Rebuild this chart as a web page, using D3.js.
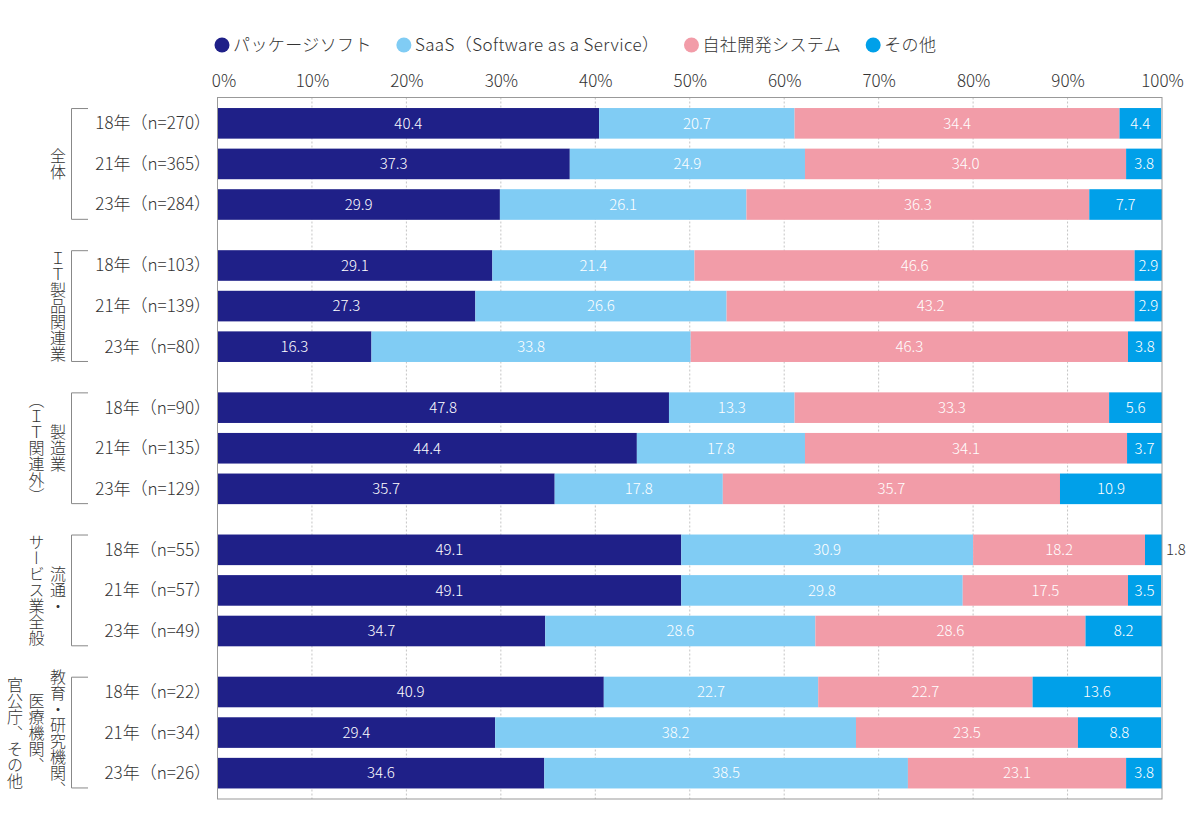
<!DOCTYPE html>
<html lang="ja">
<head>
<meta charset="utf-8">
<script src="https://cdn.jsdelivr.net/npm/d3@7"></script>
<style>
  html, body { margin: 0; padding: 0; background: #fff; }
  svg { display: block; }
  text { font-family: "Noto Sans CJK JP", "Noto Sans", sans-serif; font-weight: 300; }
</style>
</head>
<body>
<svg id="chart" width="1200" height="832"></svg>
<script>
// ---- data ----
const categories = ["パッケージソフト", "SaaS（Software as a Service）", "自社開発システム", "その他"];
const colors = ["#1f2088", "#80ccf4", "#f29ca8", "#00a0e9"];
const groupNames = ["全体", "IT製品関連業", "製造業（IT関連外）", "流通・サービス業全般", "教育・研究機関、医療機関、官公庁、その他"];
const groupLabelLines = [
  ["全体"],
  ["ＩＴ製品関連業"],
  ["製造業", "（ＩＴ関連外）"],
  ["流通・", "サービス業全般"],
  ["教育・研究機関、", "医療機関、", "官公庁、その他"]
];
const yearLabels = ["18年", "21年", "23年"];
const sampleSizes = [
  [270, 365, 284],
  [103, 139, 80],
  [90, 135, 129],
  [55, 57, 49],
  [22, 34, 26]
];
const packageSoft = [40.4, 37.3, 29.9, 29.1, 27.3, 16.3, 47.8, 44.4, 35.7, 49.1, 49.1, 34.7, 40.9, 29.4, 34.6];
const saas        = [20.7, 24.9, 26.1, 21.4, 26.6, 33.8, 13.3, 17.8, 17.8, 30.9, 29.8, 28.6, 22.7, 38.2, 38.5];
const inHouse     = [34.4, 34.0, 36.3, 46.6, 43.2, 46.3, 33.3, 34.1, 35.7, 18.2, 17.5, 28.6, 22.7, 23.5, 23.1];
const otherSys    = [4.4, 3.8, 7.7, 2.9, 2.9, 3.8, 5.6, 3.7, 10.9, 1.8, 3.5, 8.2, 13.6, 8.8, 3.8];
const tickValues  = [0, 10, 20, 30, 40, 50, 60, 70, 80, 90, 100];

// ---- build rows ----
const seriesArrays = [packageSoft, saas, inHouse, otherSys];
const rows = [];
groupNames.forEach((g, gi) => {
  yearLabels.forEach((yr, yi) => {
    const idx = gi * 3 + yi;
    const r = { group: g, year: yr, label: yr + "（n=" + sampleSizes[gi][yi] + "）" };
    categories.forEach((c, ci) => { r[c] = seriesArrays[ci][idx]; });
    rows.push(r);
  });
});

const svg = d3.select("#chart");
const pL = 217.5, pR = 1162, pT = 97.5, pB = 799;

const x = d3.scaleLinear().domain([0, 100]).range([pL, pR]);
const gy = d3.scaleBand().domain(groupNames).range([pT, pB]).paddingInner(0.1435).paddingOuter(0.039);
const ry = d3.scaleBand().domain(yearLabels).range([0, gy.bandwidth()]).paddingInner(0.246).paddingOuter(0.123);
const yPos = d => gy(d.group) + ry(d.year);

// ---- legend ----
const legend = svg.append("g").attr("class", "legend");
let lx = 222;
categories.forEach((c, i) => {
  legend.append("circle").attr("cx", lx).attr("cy", 45).attr("r", 7.5).attr("fill", colors[i]);
  const t = legend.append("text").attr("x", lx + 11).attr("y", 45).attr("dy", "0.35em")
    .attr("font-size", 17).attr("letter-spacing", 0.4).attr("fill", "#333").text(c);
  lx = lx + 11 + t.node().getComputedTextLength() + 32;
});

// ---- gridlines ----
svg.append("g").selectAll("line").data(tickValues.filter(v => v > 0 && v < 100)).join("line")
  .attr("x1", d => x(d)).attr("x2", d => x(d)).attr("y1", pT).attr("y2", pB)
  .attr("stroke", "#c4c4c4").attr("stroke-width", 1).attr("stroke-dasharray", "2,2");

// ---- axis ----
const axis = svg.append("g").attr("transform", `translate(0,${pT})`)
  .call(d3.axisTop(x).tickValues(tickValues).tickFormat(d => d + "%").tickSize(0).tickPadding(10.5));
axis.select(".domain").remove();
axis.selectAll("text").attr("font-size", 17).attr("fill", "#333")
  .attr("font-family", "\"Noto Sans CJK JP\", \"Noto Sans\", sans-serif")
  .attr("font-weight", 300);
axis.selectAll(".tick").filter(d => d === 0).select("text").attr("dx", 6);

// ---- bars ----
const stack = d3.stack().keys(categories);
const stacked = stack(rows);
const layers = svg.append("g").selectAll("g").data(stacked).join("g")
  .attr("fill", (d, i) => colors[i]);
layers.selectAll("rect").data(d => d).join("rect")
  .attr("x", d => x(d[0]))
  .attr("width", d => Math.max(0, Math.min(x(d[1]), pR) - x(d[0])))
  .attr("y", d => yPos(d.data))
  .attr("height", ry.bandwidth());

// value labels
const labelG = svg.append("g");
stacked.forEach((layer, li) => {
  layer.forEach(d => {
    const w = Math.min(x(d[1]), pR) - x(d[0]);
    const v = d[1] - d[0];
    const inside = w >= 20;
    labelG.append("text")
      .attr("x", inside ? (x(d[0]) + Math.min(x(d[1]), pR)) / 2 : pR + 4)
      .attr("y", yPos(d.data) + ry.bandwidth() / 2)
      .attr("dy", "0.35em")
      .attr("text-anchor", inside ? "middle" : "start")
      .attr("font-size", 15)
      .attr("fill", inside ? "#fff" : "#333")
      .text(d3.format(".1f")(v));
  });
});

// ---- frame ----
svg.append("rect").attr("x", pL).attr("y", pT).attr("width", pR - pL).attr("height", pB - pT)
  .attr("fill", "none").attr("stroke", "#999").attr("stroke-width", 1);

// ---- row labels ----
svg.append("g").selectAll("text").data(rows).join("text")
  .attr("x", 211).attr("y", d => yPos(d) + ry.bandwidth() / 2).attr("dy", "0.35em")
  .attr("text-anchor", "end").attr("font-size", 17).attr("fill", "#333")
  .text(d => d.label);

// ---- group brackets & labels ----
const bracket = svg.append("g");
groupNames.forEach((g, gi) => {
  const y0 = gy(g) + ry(yearLabels[0]);
  const y1 = gy(g) + ry(yearLabels[2]) + ry.bandwidth();
  bracket.append("path")
    .attr("d", `M88,${y0 + 0.5}H71.5V${y1 - 0.5}H88`)
    .attr("fill", "none").attr("stroke", "#888").attr("stroke-width", 1);
  const cy = gy(g) + gy.bandwidth() / 2;
  groupLabelLines[gi].forEach((line, li) => {
    bracket.append("text")
      .attr("x", 58 - li * 21.5).attr("y", cy)
      .style("writing-mode", "vertical-rl")
      .attr("text-anchor", "middle")
      .attr("font-size", 16).attr("fill", "#333")
      .text(line);
  });
});
</script>
</body>
</html>
